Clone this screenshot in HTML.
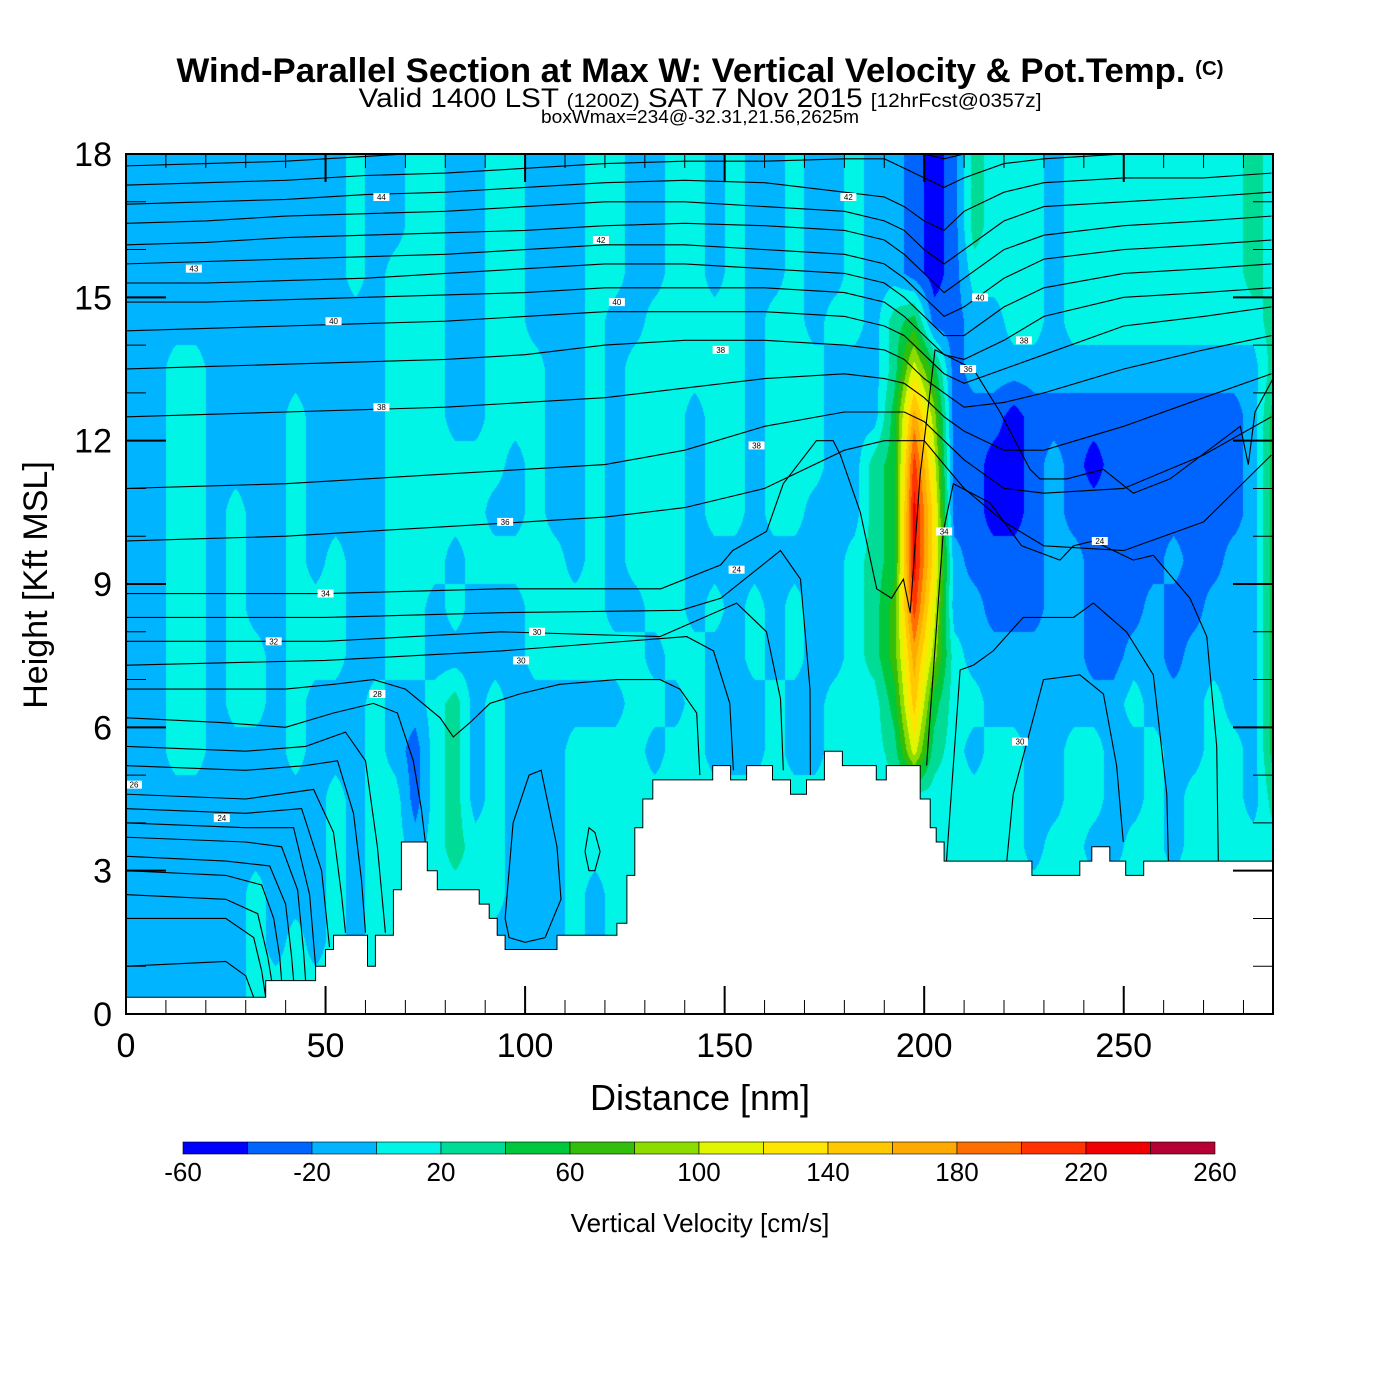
<!DOCTYPE html>
<html><head><meta charset="utf-8">
<style>
html,body{margin:0;padding:0;background:#fff;}
#wrap{position:relative;width:1400px;height:1400px;overflow:hidden;background:#fff;font-family:"Liberation Sans",sans-serif;}
#field{position:absolute;left:126px;top:154px;}
#ov{position:absolute;left:0;top:0;}
</style></head>
<body>
<div id="wrap">
<canvas id="field" width="1147" height="860"></canvas>
<svg id="ov" width="1400" height="1400" xmlns="http://www.w3.org/2000/svg">
  <defs><clipPath id="pc"><rect x="126" y="154" width="1147" height="860"/></clipPath></defs>
  <g>
    <text x="700" y="82" text-anchor="middle" font-size="34" font-weight="bold" font-family="Liberation Sans, sans-serif" textLength="1047" lengthAdjust="spacingAndGlyphs">Wind-Parallel Section at Max W: Vertical Velocity &amp; Pot.Temp. <tspan font-size="20" dy="-7">(C)</tspan></text>
    <text x="700" y="107" text-anchor="middle" font-size="27" font-family="Liberation Sans, sans-serif" textLength="683" lengthAdjust="spacingAndGlyphs">Valid 1400 LST <tspan font-size="19">(1200Z)</tspan> SAT 7 Nov 2015 <tspan font-size="19">[12hrFcst@0357z]</tspan></text>
    <text x="700" y="123" text-anchor="middle" font-size="18" font-family="Liberation Sans, sans-serif" textLength="318" lengthAdjust="spacingAndGlyphs">boxWmax=234@-32.31,21.56,2625m</text>
  </g>
  <g id="contours" clip-path="url(#pc)"></g>
  <g id="terrain" clip-path="url(#pc)"></g>
  <g id="clabels" clip-path="url(#pc)"></g>
  <g id="axes"></g>
  <rect x="126" y="154" width="1147" height="860" fill="none" stroke="#000" stroke-width="2"/>
  <text x="700" y="1110" text-anchor="middle" font-size="36" font-family="Liberation Sans, sans-serif">Distance [nm]</text>
  <text transform="translate(47,585) rotate(-90)" text-anchor="middle" font-size="34" font-family="Liberation Sans, sans-serif">Height [Kft MSL]</text>
  <g id="cbar"></g>
  <text x="700" y="1232" text-anchor="middle" font-size="26" font-family="Liberation Sans, sans-serif">Vertical Velocity [cm/s]</text>
</svg>
</div>
<script>
// ---- data ----
const levelEdges = [-60,-40,-20,0,20,40,60,80,100,120,140,160,180,200,220,240,260];
const levelColors = ["#0000ff","#0064ff","#00b4ff","#00f5e6","#00dc96","#00c83c","#32be0a","#8cdc00","#e1f500","#ffe600","#ffc800","#ffaa00","#ff6e00","#ff3200","#f00000","#b40032"];
const colorbarLabels = [-60,-20,20,60,100,140,180,220,260];
const xTickLabels = [0,50,100,150,200,250];
const yTickLabels = [0,3,6,9,12,15,18];
const gridColDist = [2.5,7.5,12.5,17.5,22.5,27.5,32.5,37.5,42.5,47.5,52.5,57.5,62.5,67.5,72.5,77.5,82.5,87.5,92.5,97.5,102.5,107.5,112.5,117.5,122.5,127.5,132.5,137.5,142.5,147.5,152.5,157.5,162.5,167.5,172.5,177.5,182.5,187.5,192.5,197.5,202.5,207.5,212.5,217.5,222.5,227.5,232.5,237.5,242.5,247.5,252.5,257.5,262.5,267.5,272.5,277.5,282.5,287.5];
const gridRowHeight = [17.5,16.5,15.5,14.5,13.5,12.5,11.5,10.5,9.5,8.5,7.5,6.5,5.5,4.5,3.5,2.5,1.5,0.5];
const wRows = [
[-10,-10,-10,-10,-10,-10,-10,-10,-10,-10,-10,10,-10,-10,10,10,-10,-10,10,10,-10,-10,-10,10,10,-10,-10,10,10,-10,10,-10,-10,10,-10,-10,10,-10,-10,-30,-50,-30,30,10,10,10,-10,10,10,10,10,10,10,10,10,10,30,10],
[-10,-10,-10,-10,-10,-10,-10,-10,-10,-10,-10,10,-10,-10,10,10,-10,-10,10,10,-10,-10,-10,10,10,-10,-10,10,10,-10,10,-10,-10,10,-10,-10,10,-10,-10,-30,-50,-30,30,10,10,10,-10,10,10,10,10,10,10,10,10,10,30,10],
[-10,-10,-10,-10,-10,-10,-10,-10,-10,-10,-10,10,-10,10,10,10,-10,-10,10,10,-10,-10,-10,10,10,-10,-10,10,10,-10,10,-10,-10,10,-10,-10,10,-10,-10,-30,-50,-30,10,10,10,10,-10,10,10,10,10,10,10,10,10,10,30,10],
[-10,-10,-10,-10,-10,-10,-10,-10,-10,-10,-10,-10,-10,10,10,10,-10,-10,10,10,-10,-10,-10,10,-10,-10,10,10,10,10,10,-10,10,10,-10,10,10,-10,30,50,-30,-30,-10,-10,10,10,-10,10,10,10,10,10,10,10,10,10,10,30],
[-10,-10,10,10,-10,-10,-10,-10,-10,-10,-10,-10,-10,10,10,10,-10,-10,10,10,10,-10,-10,10,-10,10,10,10,10,10,10,-10,10,10,10,-10,-10,-10,30,110,50,-30,-10,-10,-10,-10,-10,-10,-10,-10,-10,-10,-10,-10,-10,-10,-10,30],
[-10,-10,10,10,-10,-10,-10,-10,10,-10,-10,-10,-10,10,10,10,-10,-10,10,10,10,-10,-10,10,-10,10,10,10,-10,10,10,-10,10,10,10,-10,-10,-10,50,170,90,-30,-30,-30,-50,-30,-30,-30,-30,-30,-30,-30,-30,-30,-30,-30,-10,50],
[-10,-10,10,10,-10,-10,-10,-10,10,-10,-10,-10,-10,10,10,10,10,10,10,-10,10,-10,-10,10,-10,10,10,10,-10,10,10,-10,10,10,10,-10,-10,30,50,210,110,-30,-30,-50,-50,-30,-10,-30,-50,-30,-30,-30,-30,-30,-30,-30,-10,50],
[-10,-10,10,10,-10,10,-10,-10,10,-10,-10,-10,-10,10,10,10,10,10,-10,-10,10,-10,-10,10,-10,10,10,10,-10,10,10,-10,10,10,-10,-10,-10,30,50,230,130,-30,-30,-50,-50,-30,-10,-30,-30,-30,-30,-30,-30,-30,-30,-30,-10,50],
[-10,-10,10,10,-10,10,-10,-10,10,-10,10,-10,-10,10,10,10,-10,10,10,10,10,10,-10,10,-10,10,10,10,-10,-10,-10,-10,-10,-10,-10,-10,10,30,50,230,130,-10,-30,-30,-30,-30,-10,-10,-30,-30,-30,-30,-10,-30,-30,-10,-10,50],
[-10,-10,10,10,-10,10,-10,-10,10,10,10,-10,-10,10,10,-10,10,-10,-10,-10,10,10,10,10,-10,-10,10,10,-10,10,-10,10,-10,10,-10,-10,10,30,70,210,110,-10,-10,-30,-30,-30,-10,-10,-30,-30,-30,-10,-30,-30,-10,-10,-10,50],
[-10,-10,10,10,-10,10,10,-10,10,10,10,-10,-10,10,10,-10,-10,-10,-10,-10,10,10,10,10,10,10,-10,10,10,-10,-10,10,-10,10,-10,-10,10,30,70,170,90,10,-10,-10,-10,-10,-10,-10,-30,-30,-10,-10,-30,-10,-10,-10,-10,50],
[-10,-10,10,10,-10,10,10,-10,10,-10,-10,-10,10,-10,-10,10,30,-10,10,-10,-10,-10,-10,-10,-10,10,10,-10,10,-10,-10,-10,10,-10,-10,10,10,10,50,150,50,10,10,-10,-10,-10,-10,-10,-10,-10,10,-10,-10,-10,10,-10,-10,50],
[-10,-10,10,10,-10,-10,-10,-10,10,-10,-10,-10,10,-10,-30,10,30,-10,10,-10,-10,-10,10,10,10,10,-10,10,10,-10,-10,-10,10,-10,-10,10,10,10,30,110,30,10,-10,10,10,-10,-10,10,10,-10,-10,10,-10,-10,10,10,-10,50],
[-10,-10,-10,-10,-10,-10,-10,-10,-10,-10,10,-10,10,10,-30,10,30,-10,10,-10,-10,-10,10,10,10,10,10,10,10,10,10,10,10,10,10,10,10,10,10,10,10,10,10,10,10,-10,-10,10,10,-10,-10,10,-10,10,10,10,-10,30],
[-10,-10,-10,-10,-10,-10,-10,-10,-10,-10,10,-10,10,10,-10,10,30,10,10,-10,-10,-10,10,10,10,10,10,10,10,10,10,10,10,10,10,10,10,10,10,10,10,10,10,10,10,-10,10,10,-10,-10,10,10,-10,10,10,10,10,10],
[-10,-10,-10,-10,-10,-10,10,-10,-10,-10,10,-10,10,10,10,10,10,10,10,-10,-10,-10,10,-10,10,10,10,10,10,10,10,10,10,10,10,10,10,10,10,10,10,10,10,10,10,10,10,10,10,10,10,10,10,10,10,10,10,10],
[-10,-10,-10,-10,-10,-10,10,-10,10,-10,10,-10,10,10,10,10,10,10,-10,-10,-10,-10,10,-10,10,10,10,10,10,10,10,10,10,10,10,10,10,10,10,10,10,10,10,10,10,10,10,10,10,10,10,10,10,10,10,10,10,10],
[-10,-10,-10,-10,-10,-10,10,10,10,10,10,10,10,10,10,10,10,10,10,10,10,10,10,10,10,10,10,10,10,10,10,10,10,10,10,10,10,10,10,10,10,10,10,10,10,10,10,10,10,10,10,10,10,10,10,10,10,10]
];
const terrainX = [0,35,47.5,50,52,60.5,62.5,67,69,75.5,78,88.5,91,93,95,108,123,125.5,127.5,129.5,132,147,151.5,155.5,162,166.5,170.5,175,179.5,188,190.5,199,201.5,203,205,227,239,242,246.5,250.5,255];
const terrainH = [0.35,0.7,1.0,1.35,1.65,1.0,1.65,2.6,3.6,3.0,2.6,2.3,2.0,1.65,1.35,1.65,1.9,2.9,3.9,4.5,4.9,5.2,4.9,5.2,4.9,4.6,4.9,5.5,5.2,4.9,5.2,4.5,3.9,3.6,3.2,2.9,3.2,3.5,3.2,2.9,3.2];
const upperStations = [0,20,40,60,80,100,120,140,160,180,190,195,200,205,210,220,230,250,270,287];
const upperHeights = [
[17.75,17.8,17.85,17.95,18.05,18.1,18.15,18.2,18.2,18.2,18.2,18.1,18.0,17.9,18.0,18.1,18.2,18.3,18.3,18.3],
[17.35,17.4,17.45,17.55,17.6,17.7,17.8,17.85,17.85,17.9,17.9,17.7,17.5,17.3,17.5,17.8,17.9,18.0,18.0,18.0],
[16.95,17.0,17.05,17.15,17.2,17.3,17.4,17.45,17.4,17.2,17.1,16.9,16.6,16.4,16.8,17.2,17.4,17.5,17.5,17.6],
[16.55,16.6,16.7,16.75,16.8,16.9,17.0,17.0,16.9,16.8,16.6,16.4,16.0,15.7,16.0,16.6,16.9,17.0,17.1,17.2],
[16.1,16.15,16.25,16.3,16.35,16.4,16.5,16.55,16.5,16.4,16.2,15.9,15.5,15.1,15.4,16.0,16.3,16.5,16.6,16.7],
[15.7,15.75,15.8,15.85,15.9,16.0,16.1,16.1,16.0,15.9,15.7,15.4,15.0,14.6,14.8,15.4,15.8,16.0,16.1,16.2],
[15.3,15.3,15.35,15.4,15.5,15.6,15.7,15.7,15.6,15.5,15.3,15.0,14.6,14.2,14.2,14.8,15.2,15.5,15.6,15.7],
[14.9,14.9,14.95,15.0,15.05,15.1,15.2,15.2,15.2,15.1,14.9,14.6,14.2,13.8,13.7,14.1,14.6,15.0,15.1,15.2],
[14.3,14.35,14.4,14.45,14.5,14.6,14.7,14.7,14.7,14.6,14.4,14.2,13.8,13.4,13.2,13.5,13.8,14.4,14.6,14.8],
[13.5,13.55,13.6,13.65,13.7,13.8,14.0,14.1,14.1,14.0,13.9,13.7,13.3,13.0,12.7,12.8,13.0,13.5,13.9,14.2],
[12.5,12.55,12.6,12.65,12.7,12.8,12.9,13.1,13.3,13.4,13.3,13.2,12.9,12.5,12.2,11.8,11.8,12.3,12.9,13.4],
[11.0,11.05,11.1,11.2,11.3,11.4,11.5,11.8,12.3,12.6,12.6,12.6,12.4,12.0,11.6,11.0,10.9,11.0,11.7,12.5],
[9.9,9.95,10.0,10.1,10.2,10.3,10.4,10.6,11.0,11.8,12.0,12.0,12.0,11.5,11.0,10.3,9.8,9.7,10.3,11.7]
];
const lowerLinesX = [
[0,50,94,134,149,152,160.5,164.7,173,177.2,179,184,188.1,191.8,194.8,196.5,199,202.7,212.3,219,226.5,229,235.7,244.9,252.4,261.6,279.2,281.2,282.9,287.4],
[0,50,94,139,149,164,169,171.4,171.5],
[0,50,94,133.8,153,160.5,164,164.7],
[0,50,94,140.5,147.2,151.3,152.2],
[0,24,40,52,62,70,78.7,82,86.2,91.2,98.7,108.7,123,133.8,138.8,143,143.8],
[0,24,40,52,62,68,72,74,75],
[0,30,45,55,60,63,65],
[0,30,45,53,57,59,60],
[0,30,47,52,54,55],
[0,30,44,49,51],
[0,30,42,46,47.5],
[0,30,39,43,44.5,45],
[0,25,36,40,41.5,42],
[0,25,34,37,38.5,39],
[0,25,33,35.5,36.5],
[0,25,32,34,35],
[0,25,30,32],
[200.6,204.8,207.3,216.5,224.4,234,237.4,242.4,252.4,257.4,266.6,270.8,273.3,273.7],
[205.6,209,212.3,217.3,224.8,237.4,242.4,250.7,257.4,260.8,261.2],
[220.7,222.3,229.9,239,244.9,248.2,249.9],
[95,97,101,104,108,109,105,100,96,95],
[115,116,117.5,118.8,117.5,116,115]
];
const lowerLinesY = [
[8.8,8.8,8.9,8.9,9.4,9.7,10.1,11.1,12.0,12.0,11.7,10.5,8.9,8.7,9.1,8.4,11.3,13.9,13.5,12.6,11.4,11.2,11.2,11.4,10.9,11.2,12.3,11.5,12.6,13.3],
[8.3,8.3,8.4,8.45,8.7,9.7,9.1,6.8,5.0],
[7.8,7.8,8.0,7.9,8.6,8.0,6.6,5.1],
[7.3,7.4,7.6,7.9,7.6,6.5,5.1],
[6.8,6.8,6.8,6.9,7.0,6.8,6.2,5.8,6.1,6.5,6.7,6.9,7.0,7.0,6.8,6.3,5.0],
[6.2,6.1,6.0,6.3,6.5,6.3,5.3,4.3,3.6],
[5.6,5.5,5.6,5.9,5.3,3.5,1.7],
[5.2,5.1,5.2,5.3,4.2,2.8,1.7],
[4.6,4.5,4.7,3.8,2.5,1.7],
[4.3,4.2,4.3,3.0,1.4],
[4.0,3.9,3.9,2.5,1.0],
[3.7,3.6,3.5,2.6,1.3,0.7],
[3.3,3.2,3.1,2.3,1.2,0.7],
[3.0,2.9,2.7,2.0,1.2,0.7],
[2.5,2.4,2.1,1.2,0.7],
[2.0,2.0,1.6,0.9,0.35],
[1.0,1.1,0.8,0.35],
[5.2,10.1,11.1,10.7,9.8,9.5,9.8,9.9,9.5,9.6,8.7,7.9,5.6,3.2],
[3.2,7.2,7.3,7.6,8.3,8.3,8.6,8.0,7.1,4.6,3.2],
[3.2,4.6,7.0,7.1,6.7,5.2,3.6],
[2.0,4.0,5.0,5.1,3.5,2.4,1.6,1.5,1.6,2.0],
[3.4,3.9,3.8,3.4,3.0,3.0,3.4]
];
const labelX = [64,17,52,123,119,181,64,149,95,158,50,37,103,99,63,2,24,153,244,205,214,225,211,224];
const labelY = [17.1,15.6,14.5,14.9,16.2,17.1,12.7,13.9,10.3,11.9,8.8,7.8,8.0,7.4,6.7,4.8,4.1,9.3,9.9,10.1,15.0,14.1,13.5,5.7];
const labelText = ["44","43","40","40","42","42","38","38","36","38","34","32","30","30","28","26","24","24","24","34","40","38","36","30"];

const X0=126, X1=1273, Y0=1014, Y1=154, XMAX=287.4, YMAX=18;
function xS(d){ return X0 + d*(X1-X0)/XMAX; }
function yS(k){ return Y0 - k*(Y0-Y1)/YMAX; }
function binOf(v){ let b=Math.floor((v-levelEdges[0])/20); return Math.max(0,Math.min(levelColors.length-1,b)); }
function hex(c){ return [parseInt(c.substr(1,2),16),parseInt(c.substr(3,2),16),parseInt(c.substr(5,2),16)]; }
const NS="http://www.w3.org/2000/svg";

(function(){
  const cv=document.getElementById('field'), ctx=cv.getContext('2d');
  const W=cv.width, H=cv.height, img=ctx.createImageData(W,H), rgb=levelColors.map(hex);
  const nc=gridColDist.length, nr=gridRowHeight.length;
  for(let py=0;py<H;py++){
    const k=(Y0-(Y1+py+0.5))*YMAX/(Y0-Y1);
    let rf=(gridRowHeight[0]-k)/(gridRowHeight[0]-gridRowHeight[nr-1])*(nr-1);
    rf=Math.max(0,Math.min(nr-1,rf)); const r0=Math.min(nr-2,Math.floor(rf)), ry=rf-r0;
    for(let px=0;px<W;px++){
      const d=(px+0.5)*XMAX/(X1-X0);
      let cf=(d-gridColDist[0])/(gridColDist[nc-1]-gridColDist[0])*(nc-1);
      cf=Math.max(0,Math.min(nc-1,cf)); const c0=Math.min(nc-2,Math.floor(cf)), cx=cf-c0;
      const v=(wRows[r0][c0]*(1-cx)+wRows[r0][c0+1]*cx)*(1-ry)+(wRows[r0+1][c0]*(1-cx)+wRows[r0+1][c0+1]*cx)*ry;
      const col=rgb[binOf(v)], i=(py*W+px)*4;
      img.data[i]=col[0]; img.data[i+1]=col[1]; img.data[i+2]=col[2]; img.data[i+3]=255;
    }
  }
  ctx.putImageData(img,0,0);
})();

(function(){
  const g=document.getElementById('contours');
  upperHeights.forEach(function(hs){
    const p=document.createElementNS(NS,'polyline');
    p.setAttribute('points', hs.map(function(h,i){return xS(upperStations[i]).toFixed(1)+','+yS(h).toFixed(1);}).join(' '));
    p.setAttribute('fill','none'); p.setAttribute('stroke','#000'); p.setAttribute('stroke-width','1.1');
    
    
    g.appendChild(p);
  });
  lowerLinesX.forEach(function(xs,j){
    const p=document.createElementNS(NS,'polyline');
    p.setAttribute('points', xs.map(function(x,i){return xS(x).toFixed(1)+','+yS(lowerLinesY[j][i]).toFixed(1);}).join(' '));
    p.setAttribute('fill','none'); p.setAttribute('stroke','#000'); p.setAttribute('stroke-width','1.1');
    
    
    g.appendChild(p);
  });
  const lg=document.getElementById('clabels');
  labelX.forEach(function(x,i){
    const r=document.createElementNS(NS,'rect');
    r.setAttribute('x',xS(x)-8); r.setAttribute('y',yS(labelY[i])-4); r.setAttribute('width',16); r.setAttribute('height',8); r.setAttribute('fill','#fff');
    
    
    lg.appendChild(r);
    const t=document.createElementNS(NS,'text');
    t.setAttribute('x',xS(x)); t.setAttribute('y',yS(labelY[i])+3); t.setAttribute('text-anchor','middle');
    t.setAttribute('font-size','8'); t.setAttribute('font-family','Liberation Sans, sans-serif');
    t.textContent=labelText[i];
    
    
    lg.appendChild(t);
  });
})();

(function(){
  const g=document.getElementById('terrain');
  let pts=[xS(0)+','+(Y0+2)];
  terrainX.forEach(function(x,i){
    const xe=(i+1<terrainX.length)?terrainX[i+1]:XMAX;
    pts.push(xS(x).toFixed(1)+','+yS(terrainH[i]).toFixed(1));
    pts.push(xS(xe).toFixed(1)+','+yS(terrainH[i]).toFixed(1));
  });
  pts.push(xS(XMAX)+','+(Y0+2));
  const p=document.createElementNS(NS,'polygon');
  p.setAttribute('points',pts.join(' ')); p.setAttribute('fill','#fff'); p.setAttribute('stroke','#000'); p.setAttribute('stroke-width','1');
  
  
  g.appendChild(p);
})();

(function(){
  const g=document.getElementById('axes');
  function line(x1,y1,x2,y2,w){
    const l=document.createElementNS(NS,'line');
    l.setAttribute('x1',x1);l.setAttribute('y1',y1);l.setAttribute('x2',x2);l.setAttribute('y2',y2);
    l.setAttribute('stroke','#000');l.setAttribute('stroke-width',w);
    
    
    g.appendChild(l);
  }
  function text(x,y,s,anchor,size,name){
    const t=document.createElementNS(NS,'text');
    t.setAttribute('x',x);t.setAttribute('y',y);t.setAttribute('text-anchor',anchor);
    t.setAttribute('font-size',size);t.setAttribute('font-family','Liberation Sans, sans-serif');
    t.textContent=s;
    
    
    g.appendChild(t);
  }
  for(let k=1;k<18;k++){
    const major=(k%3===0), len=major?40:20, y=yS(k);
    line(X0,y,X0+len,y,major?2:1); line(X1-len,y,X1,y,major?2:1);
  }
  yTickLabels.forEach(function(v){ text(112,yS(v)+12,String(v),'end',34,'y-tick-label'); });
  for(let d=10;d<XMAX;d+=10){
    const major=(d%50===0), len=major?28:14, x=xS(d);
    line(x,Y0,x,Y0-len,major?2:1); line(x,Y1,x,Y1+len,major?2:1);
  }
  xTickLabels.forEach(function(v){ text(xS(v),1057,String(v),'middle',34,'x-tick-label'); });
})();

(function(){
  const g=document.getElementById('cbar');
  const cx0=183, cx1=1215, w=(cx1-cx0)/levelColors.length;
  levelColors.forEach(function(c,i){
    const r=document.createElementNS(NS,'rect');
    r.setAttribute('x',cx0+i*w); r.setAttribute('y',1142); r.setAttribute('width',w); r.setAttribute('height',12);
    r.setAttribute('fill',c); r.setAttribute('stroke','#000'); r.setAttribute('stroke-width','0.6');
    
    
    g.appendChild(r);
  });
  colorbarLabels.forEach(function(v){
    const x=cx0+(v-levelEdges[0])/(levelEdges[levelEdges.length-1]-levelEdges[0])*(cx1-cx0);
    const t=document.createElementNS(NS,'text');
    t.setAttribute('x',x); t.setAttribute('y',1181); t.setAttribute('text-anchor','middle');
    t.setAttribute('font-size','26'); t.setAttribute('font-family','Liberation Sans, sans-serif');
    t.textContent=String(v);
    
    
    g.appendChild(t);
  });
})();
</script>
</body></html>
